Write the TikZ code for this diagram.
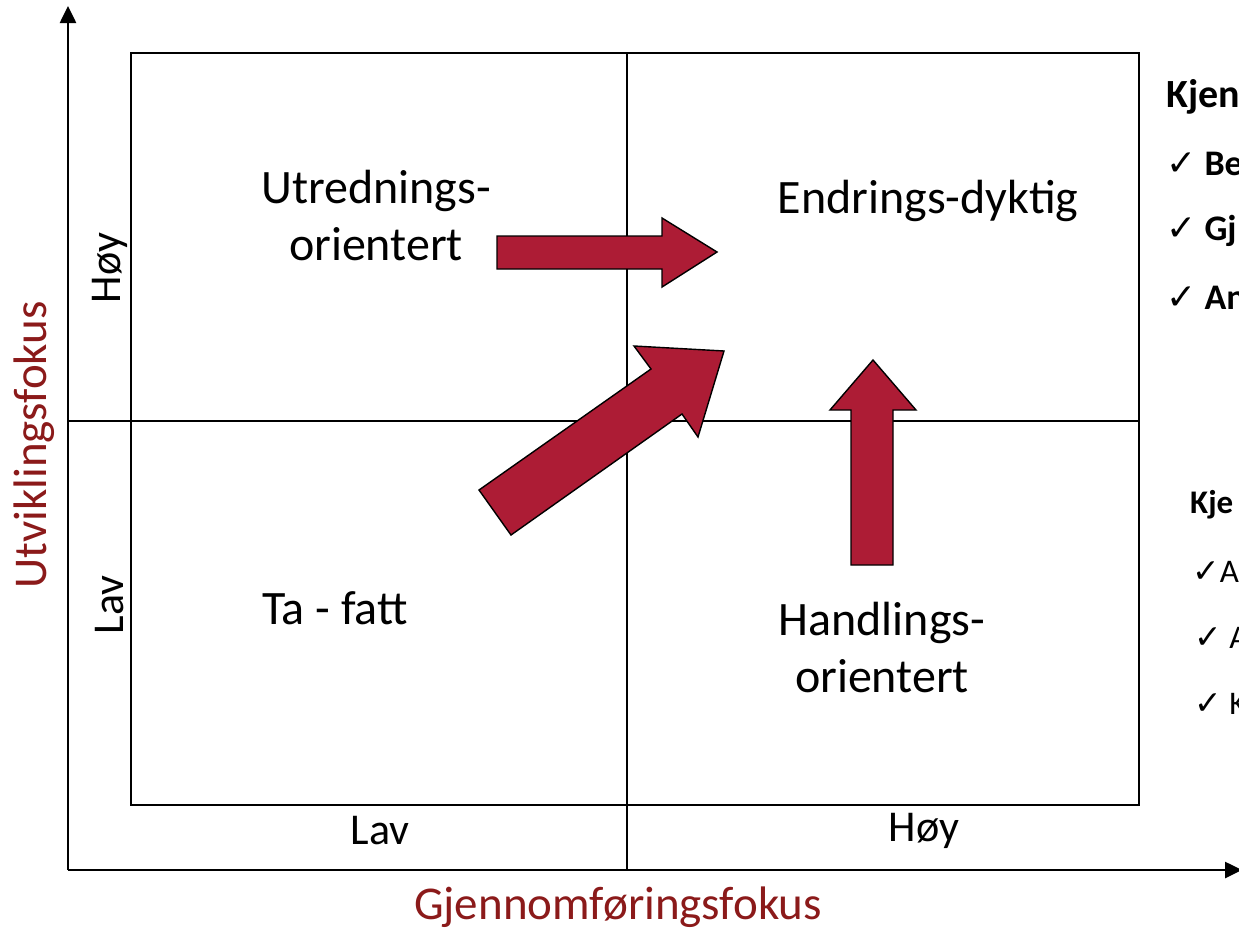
\documentclass[tikz,border=0pt]{standalone}
\usepackage{fontspec}
\setmainfont{Carlito}
\newfontfamily\symfont{DejaVu Sans}
\usetikzlibrary{arrows.meta}
\definecolor{blockred}{HTML}{AD1C35}
\definecolor{axisred}{HTML}{8B1A1A}
\newcommand{\ck}{{\symfont\char"2713}}
\begin{document}
\begin{tikzpicture}[x=1pt,y=-1pt,
  quad/.style={font=\fontsize{48}{57}\selectfont, align=center, inner sep=0pt},
  level/.style={font=\fontsize{44}{52}\selectfont, inner sep=0pt},
  axislabel/.style={font=\fontsize{47}{56}\selectfont, text=axisred, inner sep=0pt},
  side/.style={anchor=west, inner sep=0pt},
  block/.style={fill=blockred, draw=black, line width=1.4pt, line join=miter},
  axis/.style={line width=2.6pt, -{Triangle[length=17pt,width=16pt]}},
  grid/.style={line width=1.6pt}]
\useasboundingbox (0,0) rectangle (1239,932);
\clip (0,0) rectangle (1239,932);

% axes
\coordinate (O) at (68,870);
\coordinate (ytop) at (68,6);
\coordinate (xend) at (1242,870);
\draw[axis] (O) -- (ytop);
\draw[axis] (O) -- (xend);

% frame and quadrant dividers
\draw[grid] (131,53) rectangle (1139,805);
\coordinate (vtop) at (627,53);
\coordinate (vbot) at (627,870);
\coordinate (hl) at (68,421);
\coordinate (hr) at (1139,421);
\draw[grid] (vtop) -- (vbot);
\draw[grid] (hl) -- (hr);

% block arrows
\draw[block] (497,236) -- (662,236) -- (662,218) -- (717,252) -- (662,287)
  -- (662,269) -- (497,269) -- cycle;
\draw[block] (479,490) -- (651,369) -- (634,346) -- (724,351) -- (698,437)
  -- (682,414) -- (511,535) -- cycle;
\draw[block] (851,565) -- (851,410) -- (830,410) -- (873,360) -- (916,410)
  -- (893,410) -- (893,565) -- cycle;

% quadrant texts
\node[quad] (utr) at (376,216) {Utrednings-\\orientert};
\node[quad] (endr) at (928,201) {Endrings-dyktig};
\node[quad] (tafatt) at (335,608) {Ta - fatt};
\node[quad] (handl) at (882,648) {Handlings-\\orientert};

% level labels
\node[level, rotate=90] (yhoy) at (110,268) {Høy};
\node[level, rotate=90] (ylav) at (110,605) {Lav};
\node[level] (xlav) at (380,831) {Lav};
\node[level] (xhoy) at (924,831) {Høy};

% axis titles
\node[axislabel, rotate=90] (ylab) at (34,445) {Utviklingsfokus};
\node[axislabel] (xlab) at (618,907) {Gjennomføringsfokus};

% side lists, running off the right edge
\node[side, font=\fontsize{40}{48}\selectfont\bfseries] (k1) at (1166,97) {Kjen};
\node[side, font=\fontsize{36}{43}\selectfont\bfseries] (k1a) at (1166,164) {\ck{} Be};
\node[side, font=\fontsize{36}{43}\selectfont\bfseries] (k1b) at (1166,231) {\ck{} Gj};
\node[side, font=\fontsize{36}{43}\selectfont\bfseries] (k1c) at (1166,298) {\ck{} An};
\node[side, font=\fontsize{33}{40}\selectfont\bfseries] (k2) at (1190,505) {Kje};
\node[side, font=\fontsize{33}{40}\selectfont] (k2a) at (1192,572) {\ck A};
\node[side, font=\fontsize{33}{40}\selectfont] (k2b) at (1194,638) {\ck{} A};
\node[side, font=\fontsize{33}{40}\selectfont] (k2c) at (1194,704) {\ck{} K};
\end{tikzpicture}
\end{document}
